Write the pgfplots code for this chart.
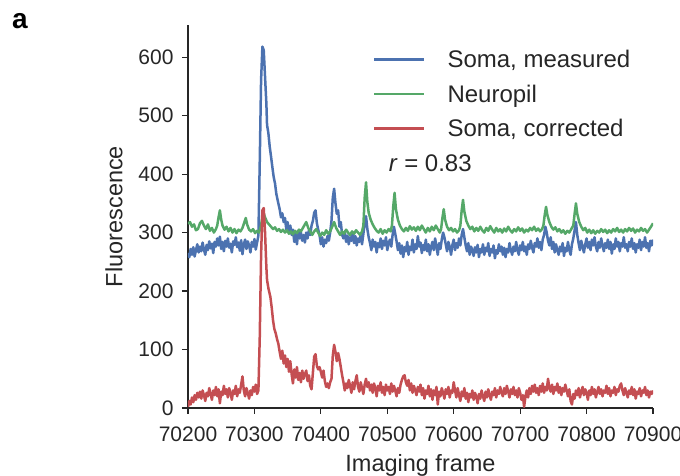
\documentclass[border=0pt]{standalone}
\usepackage{fontspec}
\setmainfont{Liberation Sans}
\usepackage{pgfplots}
\pgfplotsset{compat=1.18}
\definecolor{sblue}{RGB}{76,114,176}
\definecolor{sgreen}{RGB}{85,168,104}
\definecolor{sred}{RGB}{196,78,82}
\definecolor{sgray}{RGB}{38,38,38}

\pgfplotstableread{
f v
70200 265
70202 258
70204 272
70206 262
70208 275
70210 259
70212 270
70214 280
70216 266
70218 276
70220 268
70222 283
70224 271
70226 262
70228 279
70230 270
70232 285
70234 273
70236 281
70238 265
70240 284
70242 276
70244 290
70246 278
70248 293
70250 272
70252 284
70254 268
70256 286
70258 276
70260 290
70262 274
70264 281
70266 266
70268 285
70270 279
70272 292
70274 275
70276 283
70278 269
70280 287
70282 263
70284 280
70286 288
70288 272
70290 285
70292 278
70294 266
70296 284
70298 276
70300 289
70302 271
70304 283
70306 295
70308 420
70310 560
70312 618
70314 612
70316 566
70318 520
70319 484
70321 470
70323 447
70325 430
70327 412
70329 395
70331 384
70333 366
70336 350
70338 340
70340 326
70342 333
70344 318
70346 325
70348 305
70350 318
70352 300
70354 312
70356 296
70358 305
70360 284
70362 298
70364 280
70366 302
70368 290
70370 300
70372 286
70374 296
70376 283
70378 300
70380 290
70382 304
70384 296
70386 312
70388 320
70390 334
70392 338
70394 316
70396 305
70398 296
70400 280
70402 292
70404 276
70406 288
70408 282
70410 294
70412 286
70414 300
70416 320
70418 360
70420 375
70422 350
70424 332
70426 338
70428 310
70430 318
70432 296
70434 290
70436 302
70438 284
70440 295
70442 280
70444 292
70446 286
70448 300
70450 282
70452 294
70454 278
70456 290
70458 284
70460 296
70462 280
70464 298
70466 315
70468 328
70470 306
70472 292
70474 282
70476 270
70478 288
70480 276
70482 284
70484 266
70486 282
70488 275
70490 290
70492 272
70494 286
70496 278
70498 292
70500 270
70502 282
70504 288
70506 276
70508 296
70510 310
70512 298
70514 285
70516 270
70518 282
70520 264
70522 278
70524 258
70526 275
70528 268
70530 284
70532 262
70534 276
70536 270
70538 288
70540 266
70542 280
70544 272
70546 294
70548 276
70550 283
70552 265
70554 279
70556 270
70558 288
70560 268
70562 280
70564 262
70566 276
70568 284
70570 270
70572 290
70574 276
70576 262
70578 282
70580 272
70582 288
70584 300
70586 292
70588 280
70590 268
70592 284
70594 276
70596 262
70598 279
70600 288
70602 270
70604 282
70606 274
70608 290
70610 278
70612 296
70614 306
70616 292
70618 278
70620 268
70622 282
70624 262
70626 276
70628 270
70630 260
70632 275
70634 266
70636 279
70638 258
70640 272
70642 266
70644 280
70646 262
70648 274
70650 268
70652 282
70654 260
70656 272
70658 266
70660 278
70662 256
70664 270
70666 264
70668 280
70670 268
70672 276
70674 262
70676 274
70678 258
70680 272
70682 266
70684 282
70686 270
70688 262
70690 276
70692 268
70694 284
70696 270
70698 262
70700 278
70702 270
70704 284
70706 268
70708 276
70710 262
70712 280
70714 272
70716 286
70718 274
70720 266
70722 282
70724 276
70726 290
70728 274
70730 284
70732 270
70734 288
70736 296
70738 310
70740 300
70742 286
70744 278
70746 292
70748 272
70750 284
70752 266
70754 280
70756 270
70758 262
70760 276
70762 268
70764 282
70766 260
70768 274
70770 268
70772 284
70774 270
70776 262
70778 280
70780 290
70782 304
70784 318
70786 296
70788 282
70790 270
70792 286
70794 276
70796 266
70798 280
70800 290
70802 274
70804 284
70806 270
70808 288
70810 278
70812 292
70814 276
70816 268
70818 284
70820 274
70822 290
70824 278
70826 268
70828 282
70830 274
70832 288
70834 272
70836 284
70838 264
70840 280
70842 272
70844 290
70846 276
70848 284
70850 268
70852 282
70854 276
70856 292
70858 274
70860 280
70862 268
70864 284
70866 276
70868 290
70870 272
70872 282
70874 266
70876 280
70878 274
70880 288
70882 270
70884 284
70886 276
70888 292
70890 274
70892 282
70894 268
70896 286
70898 278
70900 288
}\somameas

\pgfplotstableread{
f v
70200 315
70203 318
70206 310
70209 314
70212 304
70215 306
70218 316
70221 320
70224 312
70227 306
70230 314
70233 303
70236 308
70239 300
70242 306
70244 312
70246 326
70248 338
70250 322
70252 312
70255 305
70258 310
70261 302
70264 308
70267 300
70270 306
70273 299
70276 305
70279 302
70282 308
70285 318
70287 325
70289 314
70292 305
70295 302
70298 306
70301 299
70304 303
70307 300
70310 312
70313 336
70316 326
70319 318
70322 314
70325 310
70328 306
70331 309
70334 303
70337 306
70340 301
70343 305
70346 300
70349 304
70352 298
70355 302
70358 297
70361 303
70364 299
70367 305
70370 302
70373 308
70376 314
70378 318
70381 308
70384 302
70387 296
70390 302
70393 306
70396 300
70399 294
70402 300
70405 296
70408 304
70411 298
70414 302
70417 310
70420 318
70423 308
70426 302
70429 296
70432 302
70435 298
70438 305
70441 300
70444 296
70447 302
70450 298
70453 304
70456 300
70459 296
70462 302
70464 312
70466 360
70468 386
70470 352
70472 334
70475 322
70478 314
70481 308
70484 303
70487 300
70490 306
70493 298
70496 304
70499 300
70502 306
70505 302
70507 312
70509 345
70511 368
70513 340
70516 322
70519 312
70522 306
70525 302
70528 308
70531 303
70534 311
70537 305
70540 309
70543 303
70546 310
70549 304
70552 312
70555 306
70558 300
70561 308
70564 302
70567 310
70570 304
70573 312
70576 306
70579 300
70581 306
70583 325
70585 340
70587 322
70590 310
70593 304
70596 308
70599 302
70602 306
70605 300
70608 304
70610 312
70612 338
70614 356
70616 336
70619 320
70622 312
70625 306
70628 310
70631 302
70634 308
70637 303
70640 310
70643 304
70646 300
70649 308
70652 303
70655 311
70658 305
70661 300
70664 308
70667 302
70670 306
70673 300
70676 307
70679 302
70682 310
70685 304
70688 300
70691 306
70694 302
70697 309
70700 303
70703 307
70706 300
70709 305
70712 302
70715 308
70718 304
70721 310
70724 303
70727 307
70730 302
70733 306
70735 312
70737 330
70739 344
70741 330
70744 318
70747 310
70750 305
70753 309
70756 302
70759 306
70762 300
70765 304
70768 298
70771 303
70774 300
70777 306
70780 312
70782 332
70784 350
70786 332
70789 318
70792 310
70795 304
70798 308
70801 300
70804 305
70807 299
70810 304
70813 298
70816 303
70819 300
70822 306
70825 301
70828 305
70831 299
70834 304
70837 300
70840 306
70843 302
70846 308
70849 301
70852 305
70855 300
70858 306
70861 302
70864 308
70867 303
70870 307
70873 300
70876 305
70879 302
70882 308
70885 303
70888 306
70891 300
70894 305
70897 310
70900 316
}\neuropil

\pgfplotstableread{
f v
70200 2
70202 12
70204 6
70206 18
70208 10
70210 22
70212 14
70214 26
70216 18
70218 28
70220 16
70222 30
70224 22
70226 12
70228 26
70230 20
70232 34
70234 24
70236 14
70238 30
70240 22
70242 36
70244 20
70246 32
70248 8
70250 28
70252 22
70254 38
70256 24
70258 32
70260 18
70262 34
70264 26
70266 14
70268 30
70270 24
70272 38
70274 20
70276 32
70278 26
70280 40
70282 54
70284 30
70286 20
70288 34
70290 26
70292 16
70294 30
70296 22
70298 36
70300 28
70302 40
70304 24
70306 30
70308 120
70310 260
70312 338
70314 342
70316 300
70318 240
70319 219
70321 205
70324 190
70326 172
70328 150
70330 135
70332 128
70334 118
70336 110
70338 96
70340 84
70342 98
70344 76
70346 90
70348 70
70350 84
70352 62
70354 80
70356 58
70358 42
70360 66
70362 52
70364 70
70366 48
70368 60
70370 44
70372 64
70374 50
70376 58
70378 64
70380 46
70382 56
70384 38
70386 32
70388 60
70390 88
70392 92
70394 72
70396 66
70398 70
70400 62
70402 52
70404 64
70406 46
70408 36
70410 42
70412 34
70414 44
70416 50
70418 90
70420 108
70422 96
70424 80
70426 94
70428 84
70430 70
70432 56
70434 44
70436 30
70438 42
70440 34
70442 48
70444 38
70446 26
70448 44
70450 32
70452 46
70454 56
70456 36
70458 28
70460 44
70462 34
70464 24
70466 40
70468 50
70470 36
70472 44
70474 30
70476 40
70478 26
70480 42
70482 34
70484 20
70486 38
70488 30
70490 44
70492 26
70494 36
70496 22
70498 40
70500 30
70502 36
70504 24
70506 42
70508 28
70510 38
70512 30
70514 20
70516 34
70518 26
70520 40
70522 48
70524 54
70526 56
70528 44
70530 38
70532 48
70534 30
70536 42
70538 26
70540 38
70542 30
70544 22
70546 36
70548 28
70550 40
70552 22
70554 34
70556 16
70558 30
70560 24
70562 38
70564 20
70566 32
70568 14
70570 30
70572 22
70574 36
70576 6
70578 28
70580 20
70582 34
70584 26
70586 16
70588 32
70590 24
70592 36
70594 18
70596 30
70598 26
70600 44
70602 30
70604 18
70606 34
70608 22
70610 12
70612 28
70614 20
70616 34
70618 16
70620 26
70622 10
70624 24
70626 18
70628 30
70630 14
70632 26
70634 20
70636 8
70638 24
70640 16
70642 30
70644 20
70646 12
70648 28
70650 18
70652 32
70654 22
70656 14
70658 28
70660 22
70662 34
70664 18
70666 30
70668 24
70670 36
70672 26
70674 20
70676 34
70678 24
70680 38
70682 28
70684 18
70686 32
70688 24
70690 36
70692 22
70694 30
70696 18
70698 34
70700 26
70702 14
70704 22
70706 2
70708 20
70710 30
70712 18
70714 34
70716 24
70718 38
70720 28
70722 40
70724 26
70726 34
70728 22
70730 38
70732 28
70734 42
70736 26
70738 36
70740 30
70742 50
70744 34
70746 28
70748 40
70750 24
70752 36
70754 30
70756 42
70758 26
70760 36
70762 22
70764 34
70766 28
70768 40
70770 30
70772 20
70774 32
70776 12
70778 6
70780 24
70782 16
70784 30
70786 22
70788 34
70790 18
70792 28
70794 36
70796 22
70798 32
70800 26
70802 14
70804 30
70806 22
70808 36
70810 24
70812 32
70814 18
70816 28
70818 36
70820 24
70822 32
70824 20
70826 30
70828 26
70830 38
70832 24
70834 34
70836 20
70838 30
70840 26
70842 36
70844 22
70846 32
70848 28
70850 38
70852 42
70854 30
70856 22
70858 34
70860 26
70862 18
70864 30
70866 24
70868 36
70870 22
70872 32
70874 16
70876 28
70878 24
70880 34
70882 20
70884 30
70886 26
70888 36
70890 22
70892 30
70894 18
70896 28
70898 24
70900 30
}\somacorr

\begin{document}
\begin{tikzpicture}
\begin{axis}[name=ax,
  scale only axis, width=465pt, height=383pt,
  xmin=70200, xmax=70900, ymin=0, ymax=655,
  axis lines=left, axis line style={-, sgray, line width=1.2pt},
  tick align=outside, major tick length=6pt,
  tick style={sgray, line width=1.2pt},
  xtick={70200,70300,...,70900}, ytick={0,100,...,600},
  scaled x ticks=false, scaled y ticks=false,
  minor tick num=0,
  /pgf/number format/.cd, 1000 sep={}, assume math mode=true, /pgfplots/.cd,
  tick label style={font=\fontsize{21}{24}\selectfont, text=sgray},
  yticklabel style={xshift=-5pt},
  xticklabel style={yshift=-9pt},
  label style={font=\fontsize{23.5}{28}\selectfont, text=sgray},
  xlabel={Imaging frame}, ylabel={Fluorescence},
  xlabel style={yshift=-6pt},
  ylabel style={yshift=9pt},
  legend style={draw=none, fill=none, at={(0.391,0.945)}, anchor=north west,
    font=\fontsize{24}{28}\selectfont, text=sgray, row sep=11.5pt, column sep=20pt},
  legend cell align=left,
  legend image code/.code={\draw[#1, line width=2.5pt] (0pt,0pt) -- (50pt,0pt);},
  clip=true,
]
\addplot[color=sblue, line width=2.5pt, line join=round] table[x=f, y=v] {\somameas};
\addlegendentry{Soma, measured}
\addplot[color=sgreen, line width=2.5pt, line join=round] table[x=f, y=v] {\neuropil};
\addlegendentry{Neuropil}
\addplot[color=sred, line width=2.5pt, line join=round] table[x=f, y=v] {\somacorr};
\addlegendentry{Soma, corrected}
\node[anchor=west, font=\fontsize{24}{28}\selectfont, text=sgray] at (axis cs:70497,419) {\textit{r} = 0.83};
\end{axis}
\node[font=\bfseries\fontsize{28}{32}\selectfont, anchor=center] at ([shift={(-168pt,4pt)}]ax.north west) {a};
\pgfresetboundingbox
\path ([shift={(-188pt,-68pt)}]ax.south west) rectangle ([shift={(27pt,25pt)}]ax.north east);
\end{tikzpicture}
\end{document}
